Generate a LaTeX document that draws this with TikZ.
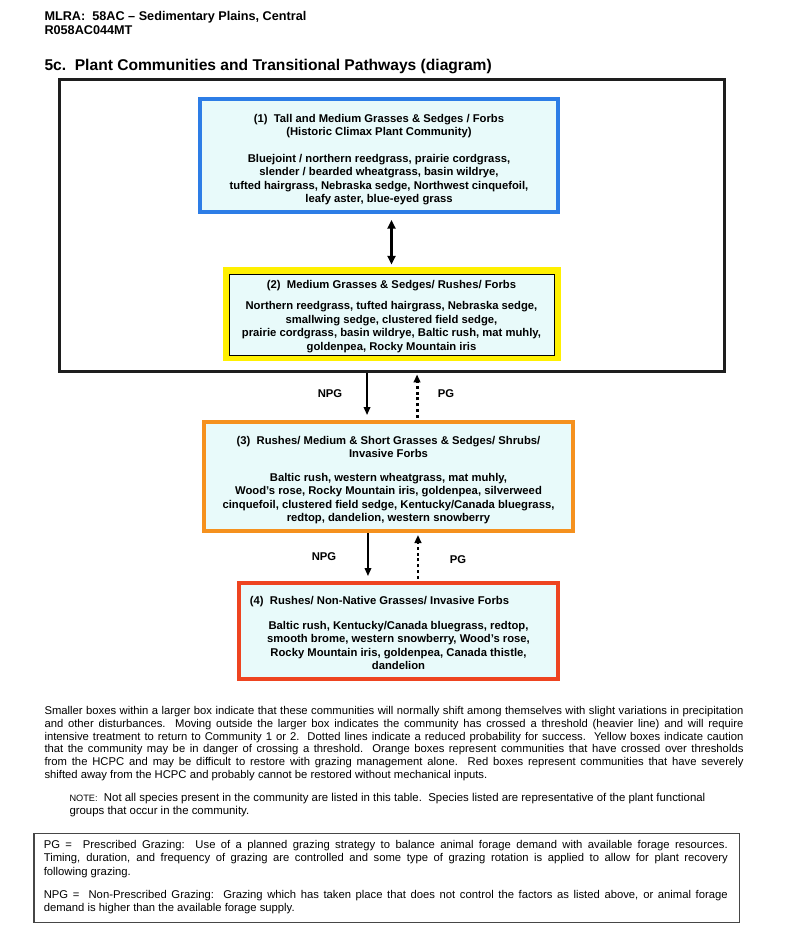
\documentclass[tikz,border=0pt]{standalone}
\usepackage{fontspec}
\setmainfont{Liberation Sans}
\usetikzlibrary{arrows.meta,backgrounds}
\setlength{\parindent}{0pt}

\definecolor{hcpcblue}{RGB}{45,125,230}
\definecolor{boxfill}{RGB}{232,250,250}
\definecolor{cautionyellow}{RGB}{255,240,0}
\definecolor{crossedorange}{RGB}{245,145,30}
\definecolor{severered}{RGB}{238,68,32}
\definecolor{framegray}{RGB}{70,70,70}

\newcommand{\boxstrut}[1]{\rule{0pt}{#1}}

\tikzset{every picture/.style={line width=0.75pt}}
\tikzset{
	community/.style={draw, fill=boxfill, line width=3pt, inner sep=0pt, align=center, font=\fontsize{8.45}{10.1}\selectfont\bfseries},
	threshold/.style={draw={rgb,255:red,30;green,30;blue,30}, line width=2.25pt, inner sep=0pt},
	npgarrow/.style={-{Triangle[length=6pt,width=5pt]}, line width=1.1pt},
	pgarrow/.style={-{Triangle[length=6pt,width=5pt]}, line width=2.2pt, dash pattern=on 2.2pt off 2.2pt},
	dblarrow/.style={{Triangle[length=6.5pt,width=6pt]}-{Triangle[length=6.5pt,width=6pt]}, line width=1.6pt},
	pathlabel/.style={font=\fontsize{8.45}{10}\selectfont\bfseries, inner sep=0pt},
	bodytext/.style={font=\fontsize{8.45}{9.7}\selectfont, inner sep=0pt}
}

\begin{document}
\begin{tikzpicture}[x=0.75pt,y=0.75pt,yscale=-1,xscale=1]
	\useasboundingbox (0,0) rectangle (800,946);

	% Header
	\node[anchor=base west, inner sep=0pt, font=\fontsize{9.5}{11}\selectfont\bfseries] (mlra) at (44,20.5) {MLRA:\ \ 58AC -- Sedimentary Plains, Central};
	\node[anchor=base west, inner sep=0pt, font=\fontsize{9.5}{11}\selectfont\bfseries] (site) at (44,34.5) {R058AC044MT};
	\node[anchor=base west, inner sep=0pt, font=\fontsize{11.7}{14}\selectfont\bfseries] (title) at (44,70.5) {5c.\ \ Plant Communities and Transitional Pathways (diagram)};

	% Threshold box
	\node[threshold, minimum width=498.75pt, minimum height=219pt] (thr) at (392,225.5) {};

	% Communities
	\node[community, draw=hcpcblue, minimum width=268.5pt, minimum height=84.75pt] (c1) at (379,155.5) {\boxstrut{12.2pt}(1)\ \ Tall and Medium Grasses \& Sedges / Forbs\\(Historic Climax Plant Community)\\[10pt]Bluejoint / northern reedgrass, prairie cordgrass,\\slender / bearded wheatgrass, basin wildrye,\\tufted hairgrass, Nebraska sedge, Northwest cinquefoil,\\leafy aster, blue-eyed grass};
	\node[community, draw=black, line width=0.75pt, minimum width=243.75pt, minimum height=60.75pt] (c2) at (391.5,314.5) {\boxstrut{9.2pt}(2)\ \ Medium Grasses \& Sedges/ Rushes/ Forbs\\[5.6pt]Northern reedgrass, tufted hairgrass, Nebraska sedge,\\smallwing sedge, clustered field sedge,\\prairie cordgrass, basin wildrye, Baltic rush, mat muhly,\\goldenpea, Rocky Mountain iris};
	\begin{scope}[on background layer]
		\fill[cautionyellow] ([shift={(-6,-7)}]c2.north west) rectangle ([shift={(6,5)}]c2.south east);
	\end{scope}
	\node[community, draw=crossedorange, minimum width=276.75pt, minimum height=81.75pt] (c3) at (388.5,476.5) {\boxstrut{11.4pt}(3)\ \ Rushes/ Medium \& Short Grasses \& Sedges/ Shrubs/\\Invasive Forbs\\[7.9pt]Baltic rush, western wheatgrass, mat muhly,\\Wood's rose, Rocky Mountain iris, goldenpea, silverweed\\cinquefoil, clustered field sedge, Kentucky/Canada bluegrass,\\redtop, dandelion, western snowberry};
	\node[community, draw=severered, minimum width=239.25pt, minimum height=72pt] (c4) at (398.5,631) {\boxstrut{9.2pt}\hspace*{-28.5pt}(4)\ \ Rushes/ Non-Native Grasses/ Invasive Forbs\\[8.6pt]Baltic rush, Kentucky/Canada bluegrass, redtop,\\smooth brome, western snowberry, Wood's rose,\\Rocky Mountain iris, goldenpea, Canada thistle,\\dandelion};

	% Pathways
	\draw[dblarrow, shorten <=4.5pt, shorten >=6.75pt] (c2.north |- c1.south) -- (c2.north);
	\draw[npgarrow, shorten >=3.75pt] ([xshift=-16.1pt]c3.north |- thr.south) -- ([xshift=-16.1pt]c3.north);
	\draw[pgarrow, shorten <=1.5pt, shorten >=1.1pt] ([xshift=21.4pt]c3.north) -- ([xshift=21.4pt]c3.north |- thr.south);
	\draw[npgarrow, shorten >=3.75pt] ([xshift=-15.4pt]c3.south) -- ([xshift=-15.4pt]c3.south |- c4.north);
	\draw[pgarrow, shorten <=1.5pt, shorten >=1.5pt] ([xshift=22.1pt]c3.south |- c4.north) -- ([xshift=22.1pt]c3.south);

	\node[pathlabel] (npg1) at (330,394) {NPG};
	\node[pathlabel] (pg1) at (446,394) {PG};
	\node[pathlabel] (npg2) at (324,557) {NPG};
	\node[pathlabel] (pg2) at (458,560) {PG};

	% Explanation
	\node[bodytext, anchor=north west, text width=524.25pt, align=justify] (expl) at (44,705.5) {Smaller boxes within a larger box indicate that these communities will normally shift among themselves with slight variations in precipitation\linebreak and other disturbances.\ \ Moving outside the larger box indicates the community has crossed a threshold (heavier line) and will require\linebreak intensive treatment to return to Community 1 or 2.\ \ Dotted lines indicate a reduced probability for success.\ \ Yellow boxes indicate caution\linebreak that the community may be in danger of crossing a threshold.\ \ Orange boxes represent communities that have crossed over thresholds\linebreak from the HCPC and may be difficult to restore with grazing management alone.\ \ Red boxes represent communities that have severely\linebreak shifted away from the HCPC and probably cannot be restored without mechanical inputs.};
	\node[bodytext, font=\fontsize{8.55}{9.8}\selectfont, anchor=north west, align=left] (note) at (69,793) {{\fontsize{6.9}{9}\selectfont NOTE:}\ \ Not all species present in the community are listed in this table.\ \ Species listed are representative of the plant functional\\groups that occur in the community.};

	% Legend
	\node[draw=framegray, line width=1.1pt, inner sep=0pt, minimum width=529.1pt, minimum height=66.4pt] (legend) at (386.5,878) {};
	\node[bodytext, font=\fontsize{8.45}{10.1}\selectfont, anchor=north west, text width=513pt, align=justify] (legendtext) at ([shift={(10.25,6.5)}]legend.north west) {PG =\ \ Prescribed Grazing:\ \ Use of a planned grazing strategy to balance animal forage demand with available forage resources.\linebreak Timing, duration, and frequency of grazing are controlled and some type of grazing rotation is applied to allow for plant recovery\linebreak following grazing.\par\vspace{7.15pt}NPG =\ \ Non-Prescribed Grazing:\ \ Grazing which has taken place that does not control the factors as listed above, or animal forage\linebreak demand is higher than the available forage supply.};
\end{tikzpicture}
\end{document}
